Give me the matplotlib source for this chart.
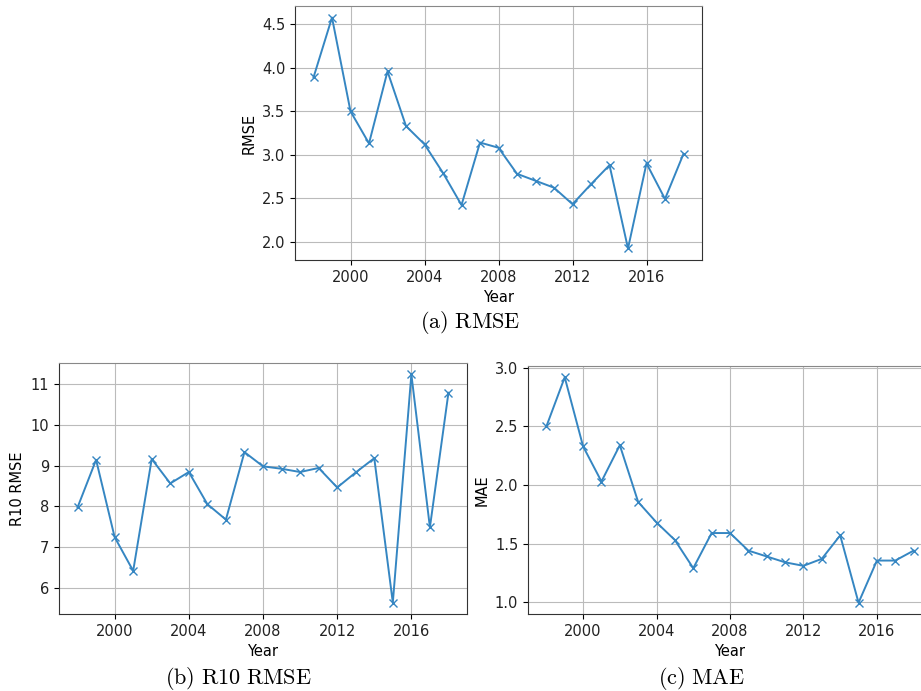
# Yearly error metrics: RMSE, R10 RMSE and MAE
import matplotlib
matplotlib.use("Agg")
import matplotlib.pyplot as plt

plt.rcParams["font.family"] = "DejaVu Sans"
plt.rcParams["font.size"] = 10.5
plt.rcParams["mathtext.fontset"] = "cm"
plt.rcParams["text.color"] = "#222222"
plt.rcParams["xtick.labelcolor"] = "#222222"
plt.rcParams["ytick.labelcolor"] = "#222222"
plt.rcParams["axes.edgecolor"] = "#333333"
plt.rcParams["grid.color"] = "#bbbbbb"

years = list(range(1998, 2019))
rmse = [3.89, 4.58, 3.50, 3.13, 3.96, 3.33, 3.12, 2.79, 2.42, 3.14, 3.08,
        2.78, 2.70, 2.62, 2.43, 2.66, 2.88, 1.92, 2.90, 2.49, 3.01]
r10_rmse = [7.97, 9.14, 7.24, 6.41, 9.16, 8.56, 8.84, 8.05, 7.67, 9.33, 8.98,
            8.92, 8.84, 8.94, 8.46, 8.83, 9.18, 5.63, 11.24, 7.48, 10.79]
mae = [2.50, 2.92, 2.33, 2.03, 2.34, 1.855, 1.68, 1.53, 1.29, 1.59, 1.59,
       1.44, 1.39, 1.34, 1.31, 1.37, 1.57, 0.995, 1.355, 1.355, 1.44]

W, H = 921, 691
fig = plt.figure(figsize=(W / 100, H / 100), dpi=100)

def px_axes(left, top, right, bottom):
    return fig.add_axes([left / W, 1 - bottom / H, (right - left) / W, (bottom - top) / H])

panels = [
    (px_axes(295, 6, 702, 260), rmse, "RMSE", r"$\mathrm{(a)\ RMSE}$", (470, 323)),
    (px_axes(59, 363, 467, 614), r10_rmse, "R10 RMSE", r"$\mathrm{(b)\ R10\ RMSE}$", (238, 678)),
    (px_axes(528, 366, 932, 614), mae, "MAE", r"$\mathrm{(c)\ MAE}$", (702, 678)),
]

for ax, vals, ylab, cap, (cx, cy) in panels:
    ax.plot(years, vals, marker="x", color="#3586c2", lw=1.4)
    ax.set_xticks([2000, 2004, 2008, 2012, 2016])
    ax.set_xlabel("Year")
    ax.set_ylabel(ylab)
    ax.grid(True)
    ax.spines["top"].set_color("#888888")
    fig.text(cx / W, 1 - cy / H, cap, ha="center", va="center", fontsize=16,
             color="black")

fig.savefig("out.png", dpi=100)
